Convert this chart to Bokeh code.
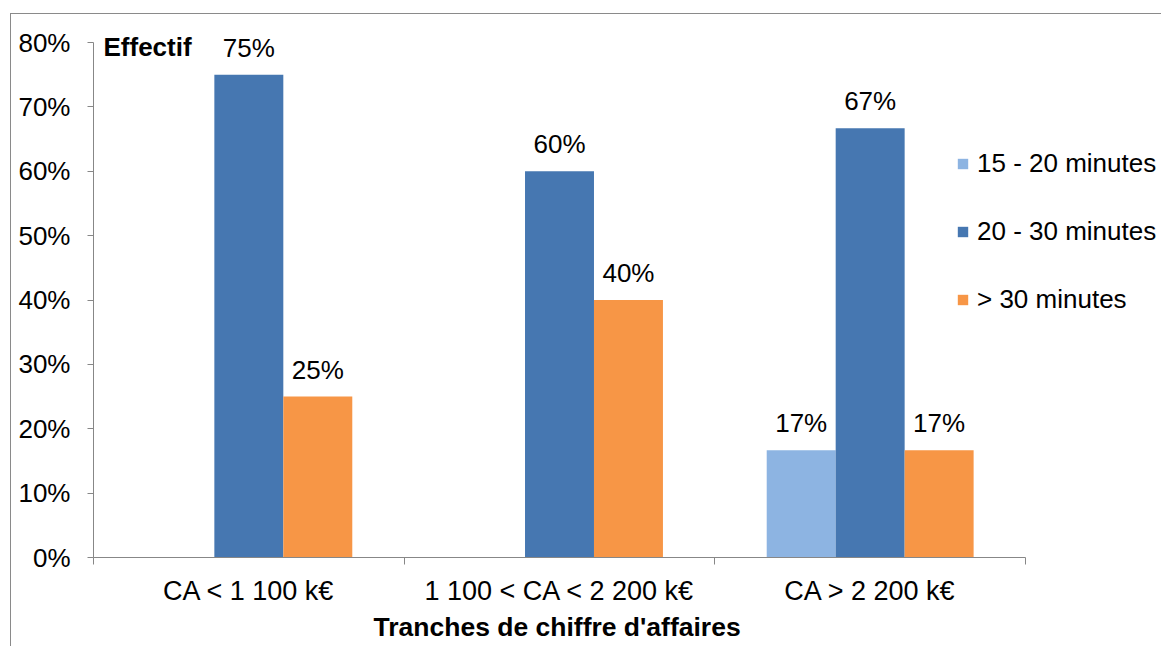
from bokeh.plotting import figure
from bokeh.models import (ColumnDataSource, FixedTicker, PrintfTickFormatter, Legend,
                          LegendItem, Label, LabelSet, Range1d, Title)
from bokeh.core.properties import value
from bokeh.embed import file_html
from bokeh.resources import INLINE

categories = ["CA < 1 100 k€", "1 100 < CA < 2 200 k€", "CA > 2 200 k€"]
series_names = ["15 - 20 minutes", "20 - 30 minutes", "> 30 minutes"]
s15_20 = [None, None, 16.67]
s20_30 = [75.0, 60.0, 66.67]
s30 = [25.0, 40.0, 16.67]
series_values = [s15_20, s20_30, s30]
colors = ["#8DB4E2", "#4677B1", "#F79646"]
y_ticks = [0, 10, 20, 30, 40, 50, 60, 70, 80]
x_title = "Tranches de chiffre d'affaires"

FONT = "Liberation Sans"
FS = "26px"
AXIS_COLOR = "#878787"

# layout: category area 932px wide, 0-80% over 515px; frame extends beyond both
CAT_PX = 932
VAL_PX = 515
FRAME_W = 1068
FRAME_H = 525
n = len(categories)
x_end = n * FRAME_W / CAT_PX
y_end = 80 * FRAME_H / VAL_PX

p = figure(output_backend="svg", toolbar_location=None,
           x_range=Range1d(0, x_end), y_range=Range1d(0, y_end),
           frame_width=FRAME_W, frame_height=FRAME_H,
           min_border_left=82, min_border_top=18, min_border_right=0, min_border_bottom=89)
p.margin = (13, 0, 0, 10)
p.styles = {"border-top": "1px solid #8a8a8a", "border-left": "1px solid #8a8a8a"}
p.outline_line_color = None
p.xgrid.grid_line_color = None
p.ygrid.grid_line_color = None

bar_w = 0.222
offsets = [-bar_w, 0.0, bar_w]
legend_items = []
for name, vals, col, off in zip(series_names, series_values, colors, offsets):
    xs, tops, labels = [], [], []
    for i, v in enumerate(vals):
        if v is None:
            continue
        xs.append(i + 0.5 + off)
        tops.append(v)
        labels.append(f"{round(v)}%")
    src = ColumnDataSource(dict(x=xs, top=tops, label=labels))
    r = p.vbar(x="x", top="top", bottom=0, width=bar_w, source=src,
               fill_color=col, line_color=None)
    legend_items.append(LegendItem(label=name, renderers=[r]))
    ls = LabelSet(x="x", y="top", text="label", source=src, text_align="center",
                  text_baseline="alphabetic", y_offset=18, text_font=value(FONT),
                  text_font_size=value(FS), text_color="#000000")
    p.add_layout(ls)

# axes
xa = p.xaxis[0]
xa.bounds = (0, n)
xa.ticker = FixedTicker(ticks=[i + 0.5 for i in range(n)],
                        minor_ticks=list(range(n + 1)))
xa.major_label_overrides = {i + 0.5: c for i, c in enumerate(categories)}
xa.major_tick_out = 0
xa.major_tick_in = 0
xa.minor_tick_out = 7
xa.minor_tick_in = 0
xa.minor_tick_line_color = AXIS_COLOR
xa.axis_line_color = AXIS_COLOR
xa.major_label_text_font = FONT
xa.major_label_text_font_size = "27px"
xa.major_label_text_color = "#000000"
xa.major_label_standoff = 11

# axis title placed under the category area (frame is wider than it)
p.add_layout(Title(text=x_title, align="left", offset=280,
                   text_font=FONT, text_font_size="26.5px", text_font_style="bold",
                   text_color="#000000", standoff=3), "below")

ya = p.yaxis[0]
ya.bounds = (0, 80)
ya.ticker = FixedTicker(ticks=y_ticks, minor_ticks=[])
ya.formatter = PrintfTickFormatter(format="%d%%")
ya.major_tick_out = 6
ya.major_tick_in = 0
ya.major_tick_line_color = AXIS_COLOR
ya.axis_line_color = AXIS_COLOR
ya.major_label_text_font = FONT
ya.major_label_text_font_size = FS
ya.major_label_text_color = "#000000"
ya.major_label_standoff = 17

p.add_layout(Label(x=0, y=80, x_offset=10, y_offset=-4, text="Effectif",
                   text_baseline="middle", text_font=FONT, text_font_size=FS,
                   text_font_style="bold", text_color="#000000"))

legend = Legend(items=legend_items, location=(863, 242), orientation="vertical",
                glyph_width=13, glyph_height=13, label_standoff=8, label_height=30,
                spacing=37, padding=0, margin=0, border_line_color=None,
                background_fill_alpha=0, label_text_font=FONT,
                label_text_font_size=FS, label_text_color="#000000")
p.add_layout(legend, "center")

open("out.html", "w").write(file_html(p, INLINE))
